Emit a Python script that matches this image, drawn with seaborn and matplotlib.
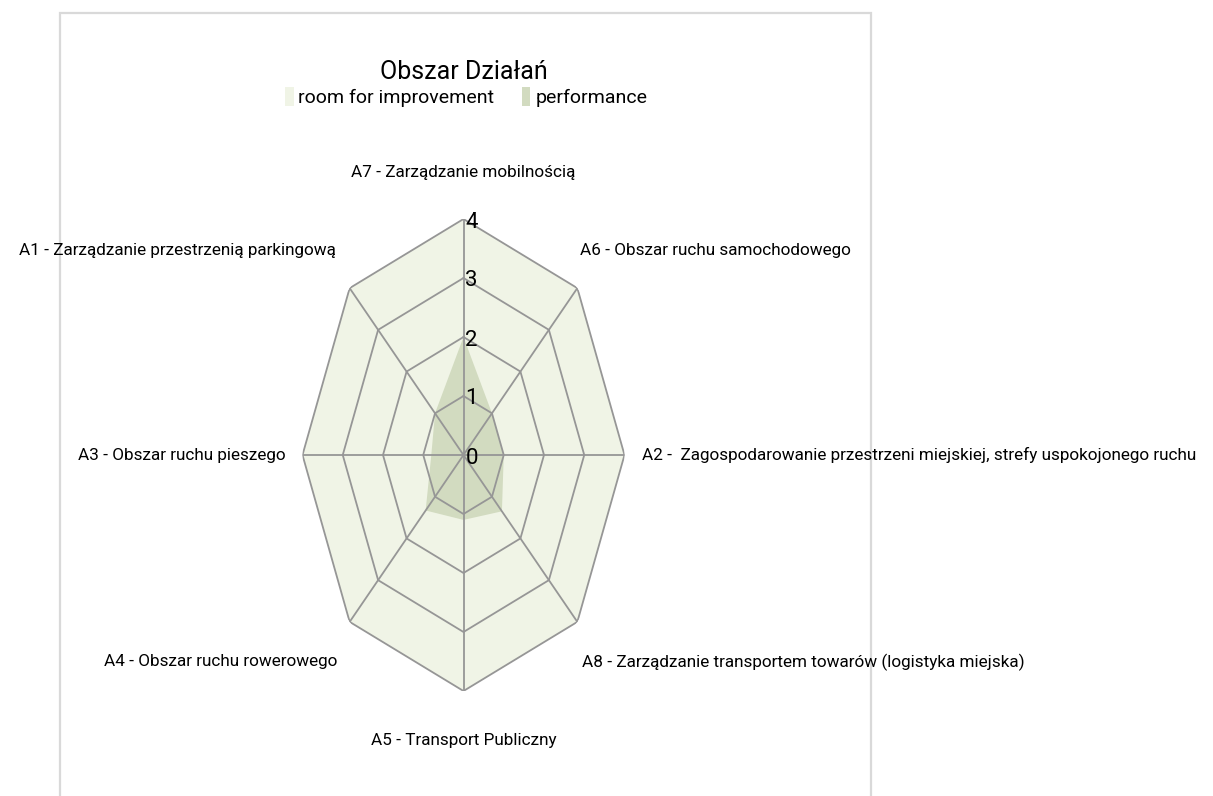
import numpy as np
import matplotlib
matplotlib.use('Agg')
import matplotlib.pyplot as plt
from matplotlib.patches import Patch, Rectangle
import seaborn as sns

# dane wykresu
categories = ['A7 - Zarządzanie mobilnością',
              'A6 - Obszar ruchu samochodowego',
              'A2 -  Zagospodarowanie przestrzeni miejskiej, strefy uspokojonego ruchu',
              'A8 - Zarządzanie transportem towarów (logistyka miejska)',
              'A5 - Transport Publiczny',
              'A4 - Obszar ruchu rowerowego',
              'A3 - Obszar ruchu pieszego',
              'A1 - Zarządzanie przestrzenią parkingową']
room = [4, 4, 4, 4, 4, 4, 4, 4]
performance = [2.0, 1.0, 1.0, 1.35, 1.1, 1.33, 0.8, 1.0]
ticks = [0, 1, 2, 3, 4]
series_names = ['room for improvement', 'performance']

room_color = '#f0f4e6'
perf_color = '#d2dbc0'
grid_color = '#969696'

sns.set_theme(style='white')
plt.rcParams['font.family'] = ['Roboto', 'DejaVu Sans']

fig = plt.figure(figsize=(12.13, 7.96), dpi=100)
fig.patch.set_facecolor('white')

# ramka wykresu (pod tekstem)
fig.patches.append(Rectangle((60 / 1213, -0.1), (871 - 60) / 1213, 1.1 - 13.5 / 796,
                             transform=fig.transFigure, fill=False, zorder=-1,
                             edgecolor='#d9d9d9', lw=1.6, clip_on=False))

ax = fig.add_axes([(463.5 - 161) / 1213, (796 - 691) / 796, 322 / 1213, 472 / 796],
                  projection='polar')
ax.set_aspect('auto')
ax.set_theta_zero_location('N')
ax.set_theta_direction(-1)

n = len(categories)
theta = np.linspace(0, 2 * np.pi, n, endpoint=False)
theta_c = np.append(theta, theta[0])

ax.fill(theta_c, room + room[:1], color=room_color, lw=0, zorder=1)
ax.fill(theta_c, performance + performance[:1], color=perf_color, lw=0, zorder=2)

# siatka osiowa
for r in ticks[1:]:
    ax.plot(theta_c, [r] * (n + 1), color=grid_color, lw=1.3, zorder=3)
for t in theta:
    ax.plot([t, t], [0, ticks[-1]], color=grid_color, lw=1.3, zorder=3)

for r in ticks:
    ax.annotate(str(r), xy=(0, r), xytext=(2, -3), textcoords='offset pixels',
                ha='left', va='center', fontsize=16, color='black', zorder=5)

offsets = [(0, 47), (3, 38), (18, 0), (5, -40), (0, -50), (-12, -40), (-17, 0), (-14, 38)]
for t, lab, off in zip(theta, categories, offsets):
    s = np.sin(t)
    ha = 'center' if abs(s) < 0.01 else ('left' if s > 0 else 'right')
    ax.annotate(lab, xy=(t, ticks[-1]), xytext=off, textcoords='offset pixels',
                ha=ha, va='center', fontsize=12.3, color='black',
                annotation_clip=False)

ax.set_ylim(0, ticks[-1])
ax.set_xticks([])
ax.set_yticks([])
ax.grid(False)
ax.spines['polar'].set_visible(False)
ax.patch.set_alpha(0)

fig.text(464 / 1213, 1 - 72 / 796, 'Obszar Działań', ha='center', va='center',
         fontsize=18, color='black')

handles = [Patch(facecolor=room_color, edgecolor='none'),
           Patch(facecolor=perf_color, edgecolor='none')]
fig.legend(handles, series_names, loc='center', ncol=2,
           bbox_to_anchor=(466 / 1213, 1 - 97 / 796), frameon=False,
           fontsize=14, handlelength=0.45, handleheight=1.1, handletextpad=0.25,
           columnspacing=1.4, borderpad=0, labelcolor='black')

fig.savefig('out.png', dpi=100, facecolor='white')
